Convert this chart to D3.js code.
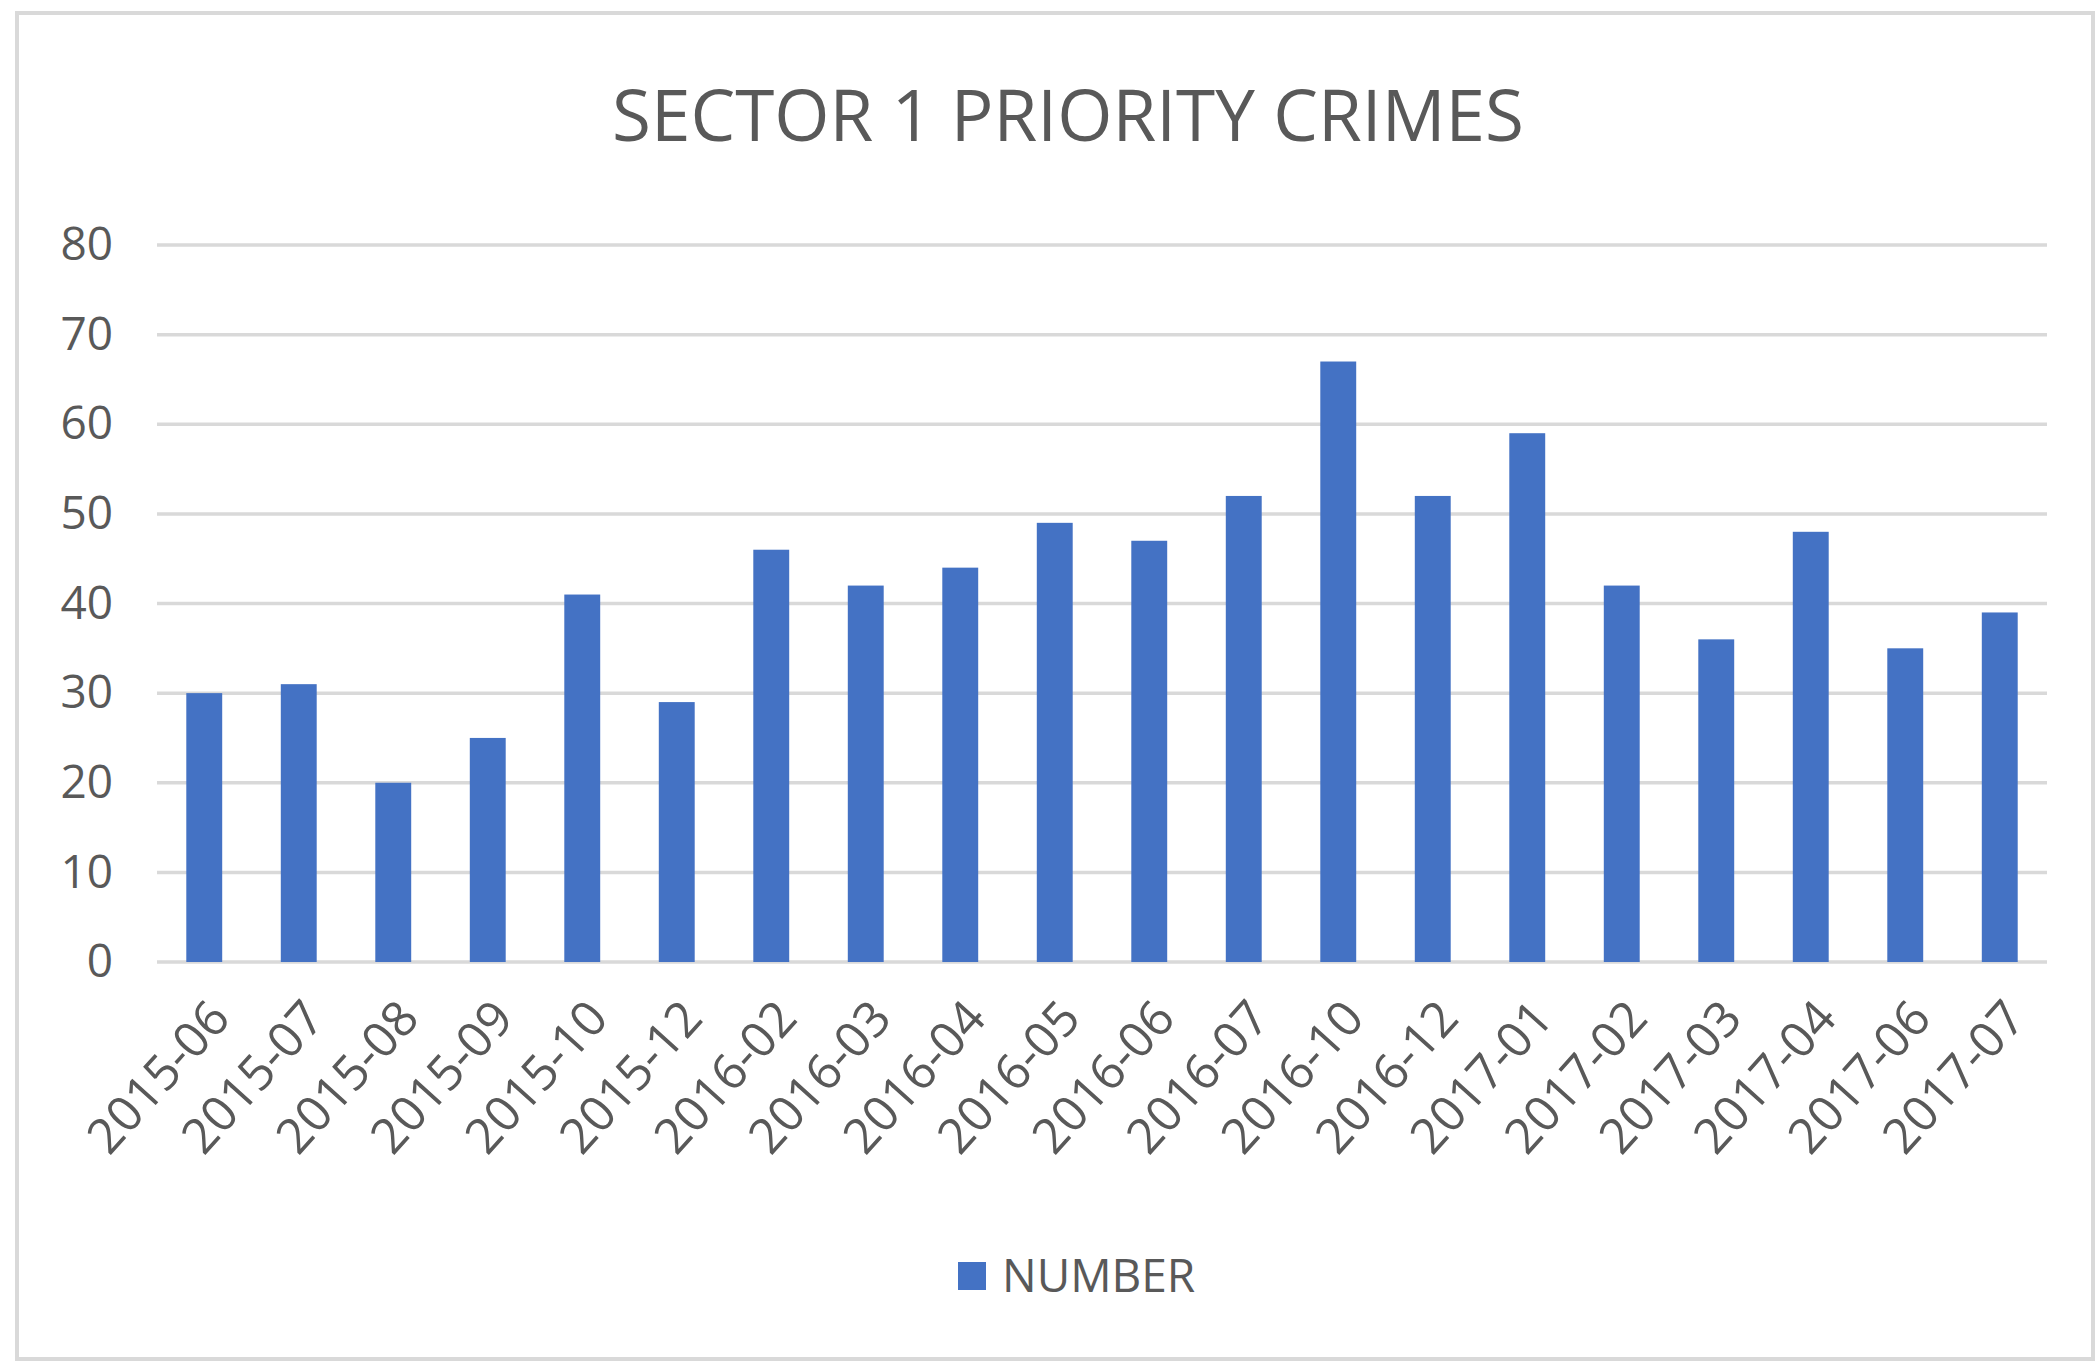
<!DOCTYPE html>
<html>
<head>
<meta charset="utf-8">
<script src="https://cdn.jsdelivr.net/npm/d3@7"></script>
<style>
  body { margin: 0; background: #fff; }
  text { font-family: "Open Sans", sans-serif; fill: #595959; }
</style>
</head>
<body>
<div id="graph"></div>
<script>
//Chart data
const months = ["2015-06", "2015-07", "2015-08", "2015-09", "2015-10", "2015-12",
  "2016-02", "2016-03", "2016-04", "2016-05", "2016-06", "2016-07", "2016-10",
  "2016-12", "2017-01", "2017-02", "2017-03", "2017-04", "2017-06", "2017-07"];
const counts = [30, 31, 20, 25, 41, 29, 46, 42, 44, 49, 47, 52, 67, 52, 59, 42, 36, 48, 35, 39];
const yTicks = [0, 10, 20, 30, 40, 50, 60, 70, 80];
const title = "SECTOR 1 PRIORITY CRIMES";
const seriesName = "NUMBER";

//Display specifications
const W = 2097, H = 1362;
const margin = {top: 245, right: 50, bottom: 400, left: 157};
const width = 2047 - margin.left;
const height = 962 - margin.top;

const svg = d3.select("#graph")
    .append("svg")
    .attr("width", W)
    .attr("height", H);

//Outer frame
svg.append("rect")
    .attr("x", 17).attr("y", 13)
    .attr("width", W - 21).attr("height", H - 16)
    .attr("fill", "none")
    .attr("stroke", "#d9d9d9")
    .attr("stroke-width", 4);

//Title
svg.append("text")
    .attr("x", 1068)
    .attr("y", 141)
    .attr("text-anchor", "middle")
    .style("font-size", "71px")
    .text(title);

const container = svg.append("g")
    .attr("transform", "translate(" + margin.left + "," + margin.top + ")");

//Scales
const x = d3.scaleBand()
    .domain(months)
    .range([0, width])
    .paddingInner(0.62)
    .paddingOuter(0.31);

const y = d3.scaleLinear()
    .domain([0, 80])
    .range([height, 0]);

//Gridlines
container.append("g")
    .selectAll("line")
    .data(yTicks)
    .enter()
    .append("line")
    .attr("x1", 0)
    .attr("x2", width)
    .attr("y1", d => y(d))
    .attr("y2", d => y(d))
    .attr("stroke", "#d9d9d9")
    .attr("stroke-width", 3.5);

//Y axis labels
const yAxis = container.append("g")
    .call(d3.axisLeft(y).tickValues(yTicks).tickSize(0).tickPadding(44));
yAxis.select(".domain").remove();
yAxis.selectAll("text")
    .style("font-size", "46px")
    .attr("fill", "#595959");

//Bars
container.append("g")
    .selectAll("rect")
    .data(counts)
    .enter()
    .append("rect")
    .attr("x", (d, i) => x(months[i]))
    .attr("y", d => y(d))
    .attr("width", x.bandwidth())
    .attr("height", d => height - y(d))
    .attr("fill", "#4472c4");

//X axis labels
const xAxis = container.append("g")
    .attr("transform", "translate(0," + height + ")")
    .call(d3.axisBottom(x).tickSize(0).tickPadding(0));
xAxis.select(".domain").remove();
xAxis.selectAll("text")
    .style("font-size", "49px")
    .attr("fill", "#595959")
    .attr("text-anchor", "end")
    .attr("dy", 0)
    .attr("transform", "translate(28,58) rotate(-48)");

//Legend
const legend = svg.append("g");
legend.append("rect")
    .attr("x", 958).attr("y", 1262)
    .attr("width", 28).attr("height", 28)
    .attr("fill", "#4472c4");
legend.append("text")
    .attr("x", 1002)
    .attr("y", 1292)
    .style("font-size", "46px")
    .text(seriesName);
</script>
</body>
</html>
